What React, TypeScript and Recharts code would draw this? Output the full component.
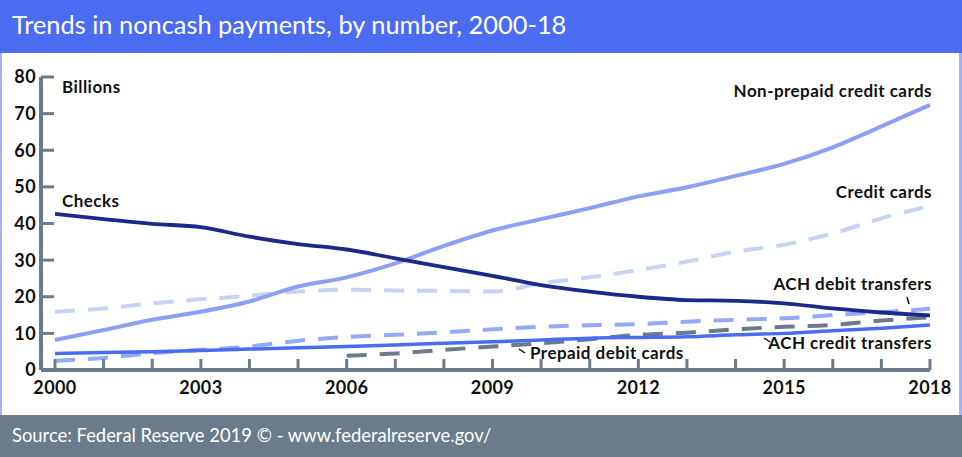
import { LineChart, Line, XAxis, YAxis } from "recharts"

const years = [2000, 2001, 2002, 2003, 2004, 2005, 2006, 2007, 2008, 2009, 2010, 2011, 2012, 2013, 2014, 2015, 2016, 2017, 2018]
const yearLabels = [2000, 2003, 2006, 2009, 2012, 2015, 2018]
const yTicks = [0, 10, 20, 30, 40, 50, 60, 70, 80]

// billions of payments
const checks = [42.6, 41.2, 39.9, 39.0, 36.4, 34.4, 32.9, 30.5, 28.1, 25.7, 23.2, 21.4, 20.0, 19.1, 18.9, 18.2, 16.8, 15.7, 14.9]
const nonPrepaidCredit = [8.2, 10.9, 13.7, 15.9, 18.7, 22.8, 25.3, 29.1, 33.9, 38.1, 41.2, 44.2, 47.4, 49.9, 53.0, 56.3, 60.8, 66.5, 72.4]
const creditCards = [15.9, 16.8, 18.2, 19.3, 20.3, 21.4, 21.9, 21.7, 21.6, 21.4, 23.7, 25.3, 27.3, 29.6, 32.3, 34.2, 37.3, 41.4, 44.8]
const achDebit = [2.5, 3.3, 4.6, 5.5, 6.4, 8.0, 9.0, 9.6, 10.3, 11.1, 11.8, 12.2, 12.5, 13.2, 13.7, 14.1, 15.0, 15.8, 16.7]
const achCredit = [4.5, 4.8, 5.0, 5.3, 5.7, 6.1, 6.4, 6.8, 7.3, 7.7, 8.2, 8.7, 8.9, 9.1, 9.6, 10.0, 10.7, 11.4, 12.3]
const prepaidDebit = [null, null, null, null, null, null, 3.9, 4.5, 5.5, 6.4, 7.3, 8.4, 9.6, 10.2, 11.1, 11.8, 12.3, 13.5, 14.4]

const data = years.map((year, i) => ({
  year,
  checks: checks[i],
  nonPrepaidCredit: nonPrepaidCredit[i],
  creditCards: creditCards[i],
  achDebit: achDebit[i],
  achCredit: achCredit[i],
  prepaidDebit: prepaidDebit[i],
}))

const AXIS = "#6b7b8c"
const FONT = "Lato, 'Open Sans', sans-serif"

const tickText = { fill: "#111", fontSize: 18, fontWeight: 700, fontFamily: FONT, letterSpacing: 0.4 }
const labelStyle = { fontSize: 17, fontWeight: 700, fill: "#111", fontFamily: FONT, letterSpacing: 0.45 }

export default function App() {
  return (
    <div style={{ position: "absolute", left: 0, top: 0, width: 962, height: 457, background: "#fff", fontFamily: FONT, overflow: "hidden" }}>
      <div style={{ position: "absolute", left: 0, top: 0, width: 962, height: 53, background: "#4b6cf1" }}>
        <div style={{ position: "absolute", left: 12, top: 9, color: "#fff", fontSize: 25.4, whiteSpace: "nowrap" }}>
          Trends in noncash payments, by number, 2000-18
        </div>
      </div>
      <div style={{ position: "absolute", left: 0, top: 53, width: 2, height: 362, background: "#a9b3ea" }} />
      <div style={{ position: "absolute", left: 959, top: 53, width: 3, height: 362, background: "#a9b3ea" }} />
      <div style={{ position: "absolute", left: 0, top: 53 }}>
        <LineChart width={962} height={361} data={data} margin={{ top: 24, right: 32, bottom: 14, left: 0 }}>
          <XAxis
            dataKey="year"
            type="number"
            domain={[2000, 2018]}
            ticks={years}
            interval={0}
            padding={{ left: 14, right: 0 }}
            axisLine={{ stroke: AXIS, strokeWidth: 4 }}
            tickLine={{ stroke: AXIS, strokeWidth: 3 }}
            tickSize={-11}
            tickMargin={18}
            tickFormatter={(v: number) => (yearLabels.includes(v) ? String(v) : "")}
            height={30}
            tick={{ ...tickText, dy: 4 }}
          />
          <YAxis
            domain={[0, 80]}
            ticks={yTicks}
            interval={0}
            width={41}
            axisLine={{ stroke: AXIS, strokeWidth: 4 }}
            tickLine={{ stroke: AXIS, strokeWidth: 3 }}
            tickSize={-13}
            tickMargin={18}
            tick={tickText}
          />
          <Line type="monotone" dataKey="creditCards" stroke="#c6d3f4" strokeWidth={4} strokeDasharray="20 13" dot={false} isAnimationActive={false} />
          <Line type="monotone" dataKey="nonPrepaidCredit" stroke="#8d9ff5" strokeWidth={4} dot={false} isAnimationActive={false} />
          <Line type="monotone" dataKey="achDebit" stroke="#93aaf6" strokeWidth={4} strokeDasharray="20 13" dot={false} isAnimationActive={false} />
          <Line type="monotone" dataKey="prepaidDebit" stroke="#6b7b8c" strokeWidth={4} strokeDasharray="20 13" dot={false} connectNulls={false} isAnimationActive={false} />
          <Line type="monotone" dataKey="achCredit" stroke="#4b6cf1" strokeWidth={3.5} dot={false} isAnimationActive={false} />
          <Line type="monotone" dataKey="checks" stroke="#1b2a8a" strokeWidth={3.8} dot={false} isAnimationActive={false} />
        </LineChart>
      </div>
      <svg width={962} height={457} style={{ position: "absolute", left: 0, top: 0, pointerEvents: "none" }}>
        <text x={62} y={93} {...labelStyle}>Billions</text>
        <text x={62} y={207} {...labelStyle}>Checks</text>
        <text x={932} y={97} textAnchor="end" {...labelStyle}>Non-prepaid credit cards</text>
        <text x={932} y={198} textAnchor="end" {...labelStyle}>Credit cards</text>
        <text x={932} y={290} textAnchor="end" {...labelStyle}>ACH debit transfers</text>
        <line x1={907} y1={297} x2={909} y2={304} stroke="#111" strokeWidth={1.5} />
        <text x={932} y={349} textAnchor="end" {...labelStyle}>ACH credit transfers</text>
        <line x1={764} y1={338} x2={770} y2={342} stroke="#111" strokeWidth={1.5} />
        <text x={530} y={359} {...labelStyle}>Prepaid debit cards</text>
        <line x1={519} y1={349} x2={525} y2={353} stroke="#111" strokeWidth={1.5} />
      </svg>
      <div style={{ position: "absolute", left: 0, top: 415, width: 962, height: 42, background: "#6b7b8c" }}>
        <div style={{ position: "absolute", left: 12, top: 9, color: "#fff", fontSize: 18.4, whiteSpace: "nowrap" }}>
          Source: Federal Reserve 2019 © - www.federalreserve.gov/
        </div>
      </div>
    </div>
  )
}
